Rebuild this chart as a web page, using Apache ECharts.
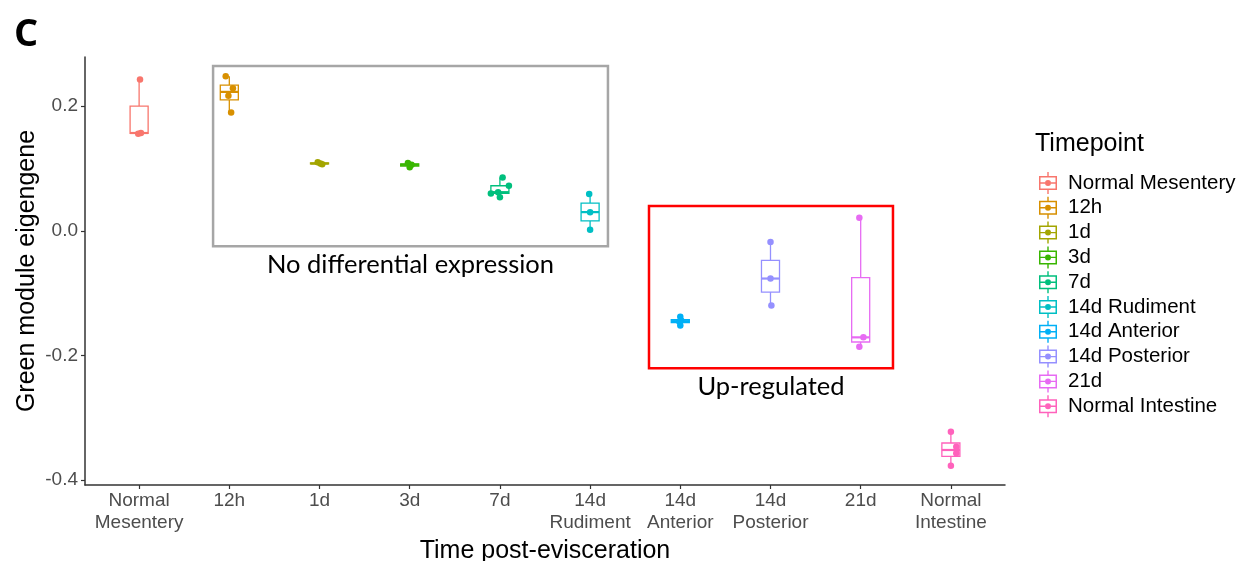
<!DOCTYPE html>
<html>
<head>
<meta charset="utf-8">
<script src="https://cdn.jsdelivr.net/npm/echarts@6/dist/echarts.min.js"></script>
<style>
  html, body { margin: 0; padding: 0; background: #fff; }
  #chart { width: 1243px; height: 561px; }
</style>
</head>
<body>
<div id="chart"></div>
<script>
// categories (axis labels) and legend names
const categories = ['Normal\nMesentery', '12h', '1d', '3d', '7d', '14d\nRudiment', '14d\nAnterior', '14d\nPosterior', '21d', 'Normal\nIntestine']
const timepoints = ['Normal Mesentery', '12h', '1d', '3d', '7d', '14d Rudiment', '14d Anterior', '14d Posterior', '21d', 'Normal Intestine']
const colors = ['#F8766D', '#D89000', '#A3A500', '#39B600', '#00BF7D', '#00BFC4', '#00B0F6', '#9590FF', '#E76BF3', '#FF62BC']

// eigengene values per sample
const normalMesentery = [0.243, 0.157, 0.156]
const h12 = [0.248, 0.229, 0.217, 0.190]
const d1 = [0.110, 0.108, 0.107]
const d3 = [0.109, 0.106, 0.102]
const d7 = [0.0857, 0.0723, 0.062, 0.060, 0.054]
const d14Rudiment = [0.059, 0.030, 0.0016]
const d14Anterior = [-0.138, -0.144, -0.146, -0.152]
const d14Posterior = [-0.018, -0.0766, -0.120]
const d21 = [0.021, -0.171, -0.186]
const normalIntestine = [-0.3224, -0.3466, -0.357, -0.377]

// horizontal jitter of the points (category units)
const jitterNM = [0.01, 0.02, -0.01]
const jitter12h = [-0.04, 0.04, -0.01, 0.02]
const jitter1d = [-0.02, 0.01, 0.03]
const jitter3d = [-0.02, 0.02, 0]
const jitter7d = [0.03, 0.10, -0.02, -0.10, 0.0]
const jitter14R = [-0.01, 0, 0]
const jitter14A = [0, 0.01, -0.01, 0]
const jitter14P = [0, 0, 0.01]
const jitter21d = [-0.015, 0.03, -0.015]
const jitterNI = [0, 0.06, 0.06, 0]

const yTicks = [-0.4, -0.2, 0, 0.2]
const xTicks = [0, 1, 2, 3, 4, 5, 6, 7, 8, 9]

const groups = [normalMesentery, h12, d1, d3, d7, d14Rudiment, d14Anterior, d14Posterior, d21, normalIntestine]
const jitters = [jitterNM, jitter12h, jitter1d, jitter3d, jitter7d, jitter14R, jitter14A, jitter14P, jitter21d, jitterNI]

// quantile (type 7, like R)
const quantile = (sorted, p) => {
  const h = (sorted.length - 1) * p
  const lo = Math.floor(h)
  const hi = Math.ceil(h)
  return sorted[lo] + (h - lo) * (sorted[hi] - sorted[lo])
}

const boxStats = (vals) => {
  const s = vals.slice().sort((a, b) => a - b)
  const q1 = quantile(s, 0.25)
  const med = quantile(s, 0.5)
  const q3 = quantile(s, 0.75)
  const iqr = q3 - q1
  const lo = s.filter(v => v >= q1 - 1.5 * iqr)[0]
  const hiArr = s.filter(v => v <= q3 + 1.5 * iqr)
  const hi = hiArr[hiArr.length - 1]
  return [lo, q1, med, q3, hi]
}

const renderBox = (params, api) => {
  const x = api.value(0)
  const half = api.size([0.2, 0])[0] / 2
  const pMin = api.coord([x, api.value(1)])
  const pQ1 = api.coord([x, api.value(2)])
  const pMed = api.coord([x, api.value(3)])
  const pQ3 = api.coord([x, api.value(4)])
  const pMax = api.coord([x, api.value(5)])
  const color = api.visual('color')
  const cx = pMed[0]
  return {
    type: 'group',
    children: [
      { type: 'line', shape: { x1: cx, y1: pQ3[1], x2: cx, y2: pMax[1] }, style: { stroke: color, lineWidth: 1.3 } },
      { type: 'line', shape: { x1: cx, y1: pQ1[1], x2: cx, y2: pMin[1] }, style: { stroke: color, lineWidth: 1.3 } },
      { type: 'rect', shape: { x: cx - half, y: pQ3[1], width: half * 2, height: Math.max(pQ1[1] - pQ3[1], 0.5) }, style: { stroke: color, fill: '#fff', lineWidth: 1.3 } },
      { type: 'line', shape: { x1: cx - half, y1: pMed[1], x2: cx + half, y2: pMed[1] }, style: { stroke: color, lineWidth: 2.2 } }
    ]
  }
}

const boxIcon = 'path://M0,4L18,4L18,18L0,18Z M1.5,5.5L1.5,16.5L16.5,16.5L16.5,5.5Z M1.5,10.3L6,10.3L6,11.7L1.5,11.7Z M12,10.3L16.5,10.3L16.5,11.7L12,11.7Z M8.3,0L9.7,0L9.7,4L8.3,4Z M8.3,18L9.7,18L9.7,22L8.3,22Z M6,11a3,3 0 1,1 6,0a3,3 0 1,1 -6,0Z'

const series = []
timepoints.forEach((name, i) => {
  series.push({
    name,
    type: 'custom',
    renderItem: renderBox,
    itemStyle: { color: colors[i] },
    encode: { x: 0, y: [1, 2, 3, 4, 5] },
    data: [[i].concat(boxStats(groups[i]))],
    z: 2
  })
  series.push({
    name,
    type: 'scatter',
    symbolSize: 6.5,
    itemStyle: { color: colors[i], opacity: 1 },
    data: groups[i].map((v, k) => [i + jitters[i][k], v]),
    z: 3
  })
})

// annotation frames
series[1].markArea = {
  silent: true,
  itemStyle: { color: 'rgba(0,0,0,0)', borderColor: '#A6A6A6', borderWidth: 2.5 },
  label: { show: true, position: 'bottom', distance: 4, color: '#000', fontFamily: 'Lato', fontSize: 25.5 },
  data: [[
    { name: 'No differential expression', coord: [0.82, 0.2646] },
    { coord: [5.198, -0.0246] }
  ]]
}
series[13].markArea = {
  silent: true,
  itemStyle: { color: 'rgba(0,0,0,0)', borderColor: '#FF0000', borderWidth: 2.5 },
  label: { show: true, position: 'bottom', distance: 4, color: '#000', fontFamily: 'Lato', fontSize: 25.5 },
  data: [[
    { name: 'Up-regulated', coord: [5.653, 0.0397] },
    { coord: [8.358, -0.2205] }
  ]]
}

const option = {
  animation: false,
  textStyle: { fontFamily: 'Liberation Sans' },
  title: [
    { text: 'C', left: 9, top: 11, textStyle: { fontFamily: 'Open Sans', fontWeight: 'bold', fontSize: 38, color: '#000' } },
    { text: 'Timepoint', left: 1030, top: 127, textStyle: { fontFamily: 'Liberation Sans', fontWeight: 'normal', fontSize: 25, color: '#000' } }
  ],
  legend: {
    orient: 'vertical',
    left: 1034,
    top: 167,
    itemWidth: 18,
    itemHeight: 22,
    itemGap: 2.8,
    icon: boxIcon,
    data: timepoints,
    textStyle: { fontSize: 20.5, lineHeight: 22, color: '#000', padding: [0, 0, 0, 6] }
  },
  grid: { left: 85, right: 238, top: 57, bottom: 76, outerBoundsMode: 'none', containLabel: false },
  xAxis: {
    type: 'value',
    min: -0.6,
    max: 9.6,
    name: 'Time post-evisceration',
    nameLocation: 'middle',
    nameGap: 46,
    nameTextStyle: { fontSize: 25, color: '#000' },
    splitLine: { show: false },
    axisLine: { onZero: false, lineStyle: { color: '#333', width: 1.5 } },
    axisTick: { show: true, length: 4, customValues: xTicks, lineStyle: { color: '#333', width: 1.2 } },
    axisLabel: {
      customValues: xTicks,
      formatter: (v) => categories[Math.round(v)],
      fontSize: 19,
      color: '#4D4D4D',
      lineHeight: 22,
      margin: 5
    }
  },
  yAxis: {
    type: 'value',
    min: -0.408,
    max: 0.279,
    name: 'Green module eigengene',
    nameLocation: 'middle',
    nameGap: 45,
    nameMoveOverlap: false,
    nameTextStyle: { fontSize: 25, color: '#000' },
    splitLine: { show: false },
    axisLine: { show: true, onZero: false, lineStyle: { color: '#333', width: 1.5 } },
    axisTick: { show: true, length: 4, customValues: yTicks, lineStyle: { color: '#333', width: 1.2 } },
    axisLabel: {
      customValues: yTicks,
      formatter: (v) => v.toFixed(1),
      fontSize: 19,
      color: '#4D4D4D',
      margin: 7
    }
  },
  series
}

const myChart = echarts.init(document.getElementById('chart'))
myChart.setOption(option)
window.onresize = () => {
  myChart.resize()
}
</script>
</body>
</html>
